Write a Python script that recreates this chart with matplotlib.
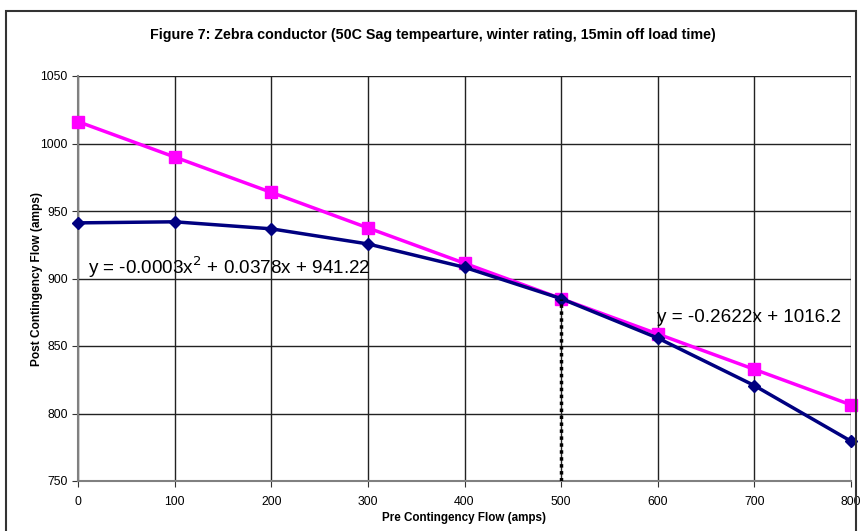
import matplotlib
matplotlib.use("Agg")
import matplotlib.pyplot as plt
from matplotlib.patches import Rectangle

plt.rcParams['font.family'] = ['Liberation Sans', 'DejaVu Sans']

pre_flow = [0, 100, 200, 300, 400, 500, 600, 700, 800]
post_quad = [941.2, 942.0, 936.8, 925.6, 908.3, 885.1, 855.9, 820.7, 779.5]
post_lin = [1016.2, 990.0, 963.8, 937.5, 911.3, 885.1, 858.9, 832.7, 806.4]
x_ticks = [0, 100, 200, 300, 400, 500, 600, 700, 800]
y_ticks = [750, 800, 850, 900, 950, 1000, 1050]
marker_x = 500
marker_y = 885.1

W, H = 864, 531
fig = plt.figure(figsize=(W / 100, H / 100), dpi=100)
fig.patch.set_facecolor('white')

# outer chart border
fig.patches.append(Rectangle((6 / W, -0.01), (856 - 6) / W, (H - 11) / H + 0.01,
                             transform=fig.transFigure, fill=False,
                             edgecolor='#333333', linewidth=1.5))

left, right, top, bottom = 78, 851, 76, 481
ax = fig.add_axes([left / W, 1 - bottom / H, (right - left) / W, (bottom - top) / H])

ax.set_xlim(0, 800)
ax.set_ylim(750, 1050)
ax.set_xticks(x_ticks)
ax.set_yticks(y_ticks)
ax.grid(True, color='#222222', linewidth=1.0)
ax.set_axisbelow(True)
for s in ['top', 'right']:
    ax.spines[s].set_visible(False)
for s in ['left', 'bottom']:
    ax.spines[s].set_color('#808080')
    ax.spines[s].set_linewidth(1.5)
ax.tick_params(axis='both', labelsize=8.8, length=4, color='#333333', direction='out')
ax.tick_params(axis='x', pad=7)

ax.plot(pre_flow, post_lin, color='#FF00FF', linewidth=2.5, marker='s',
        markersize=8, zorder=3, clip_on=False)
ax.plot(pre_flow, post_quad, color='#000080', linewidth=2.5, marker='D',
        markersize=6, zorder=4, clip_on=False)

ax.plot([marker_x, marker_x], [750, marker_y], color='black', linestyle=(0, (1, 1)),
        linewidth=2.5, zorder=5)

ax.text(10, 903, r'y = -0.0003x$^2$ + 0.0378x + 941.22', fontsize=13.6,
        va='baseline', ha='left', zorder=6)
ax.text(599, 867.5, 'y = -0.2622x + 1016.2', fontsize=13.6,
        va='baseline', ha='left', zorder=6)

ax.set_xlabel('Pre Contingency Flow (amps)', fontsize=8.4, fontweight='bold', labelpad=3)
ax.set_ylabel('Post Contingency Flow (amps)', fontsize=8.6, fontweight='bold', labelpad=-2)

fig.text(433 / W, 1 - 35 / H, 'Figure 7: Zebra conductor (50C Sag tempearture, winter rating, 15min off load time)',
         ha='center', va='center', fontsize=10.3, fontweight='bold')

fig.savefig('out.png', dpi=100)
